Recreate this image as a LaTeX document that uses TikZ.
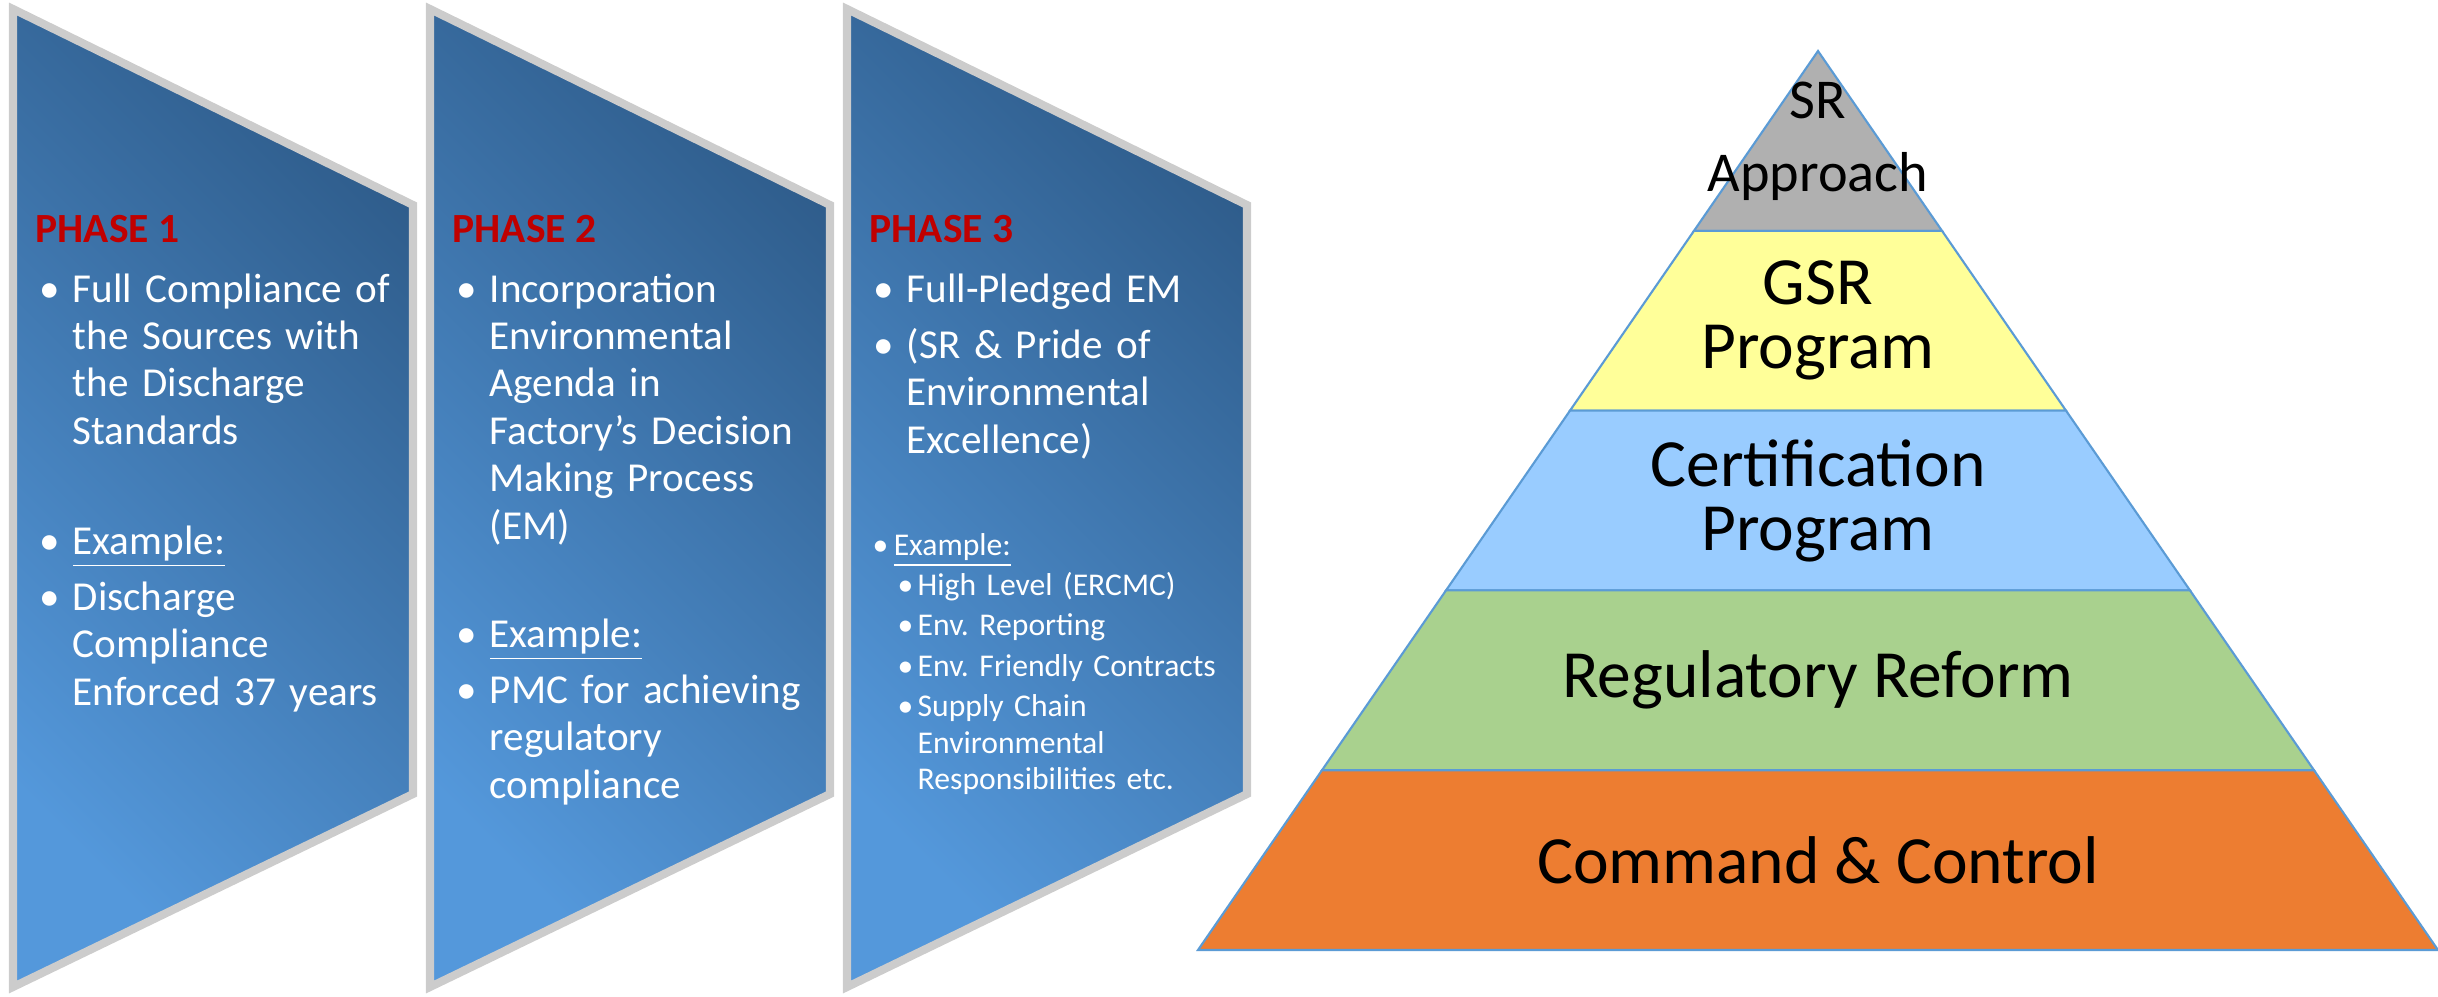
\documentclass[tikz,border=0pt]{standalone}
\usepackage{fontspec}
\setmainfont{Carlito}
\usetikzlibrary{positioning,calc}

\definecolor{phaseLight}{RGB}{84,152,219}
\definecolor{phaseDark}{RGB}{47,93,140}
\definecolor{phaseRim}{RGB}{204,204,204}
\definecolor{phaseRed}{RGB}{192,0,0}
\definecolor{pyrLine}{RGB}{91,155,213}
\definecolor{pyrGray}{RGB}{176,176,176}
\definecolor{pyrYellow}{RGB}{255,255,153}
\definecolor{pyrBlue}{RGB}{153,204,255}
\definecolor{pyrGreen}{RGB}{169,209,142}
\definecolor{pyrOrange}{RGB}{237,125,49}

\frenchspacing
\newcommand{\phitem}[2][9.4pt]{\noindent\hbox to #1{\textbullet\hfil}\parbox[t]{3.6cm}{\raggedright\frenchspacing #2}\par}
\newcommand{\phsub}[1]{\noindent\hspace*{7.1pt}\hbox to 5.7pt{\textbullet\hfil}\parbox[t]{3.2cm}{\raggedright\frenchspacing #1}\par}
\newcommand{\pyrsmall}{\fontsize{16}{20.8}\selectfont}
\newcommand{\pyrbig}{\fontsize{19.2}{18.2}\selectfont}

\tikzset{
  phasebox/.style={draw=phaseRim, line width=2.3pt, bottom color=phaseLight, top color=phaseDark, shading angle=-45},
  phasehead/.style={anchor=base west, inner sep=0pt, text=phaseRed, font=\fontsize{11.8}{13.5}\selectfont\bfseries},
  phasetext/.style={anchor=base west, inner sep=0pt, text=white, text width=3.9cm,
    font=\fontsize{11.7}{13.5}\selectfont, execute at begin node=\setlength{\parskip}{2.45pt}},
  phasesmall/.style={phasetext, font=\fontsize{9}{10.4}\selectfont, execute at begin node=\setlength{\parskip}{1.1pt}},
  layer/.style={draw=pyrLine, line width=0.6pt},
  laytext/.style={align=center, inner sep=0pt}
}

\begin{document}
\begin{tikzpicture}[x=0.01cm, y=-0.01cm]
\useasboundingbox (0,0) rectangle (2438,996);

% the three phase panels
\foreach \L in {9,426,843}{
  \draw[phasebox] (\L+4,9) -- (\L+404,205) -- (\L+404,794) -- (\L+4,987) -- cycle;
}

% phase 1
\node[phasehead] (head1) at (35,242) {PHASE 1};
\node[phasetext] (body1) at (39,302) {\phitem{Full Compliance of\\the Sources with\\the Discharge\\Standards}};
\node[phasetext] (exa1) at (39,554) {\phitem{\underline{Example:}}\phitem{Discharge\\Compliance\\Enforced 37 years}};

% phase 2
\node[phasehead] (head2) at (452,242) {PHASE 2};
\node[phasetext] (body2) at (456,302) {\phitem{Incorporation\\Environmental\\Agenda in\\Factory’s Decision\\Making Process\\(EM)}};
\node[phasetext] (exa2) at (456,647) {\phitem{\underline{Example:}}\phitem{PMC for achieving\\regulatory\\compliance}};

% phase 3
\node[phasehead] (head3) at (869,242) {PHASE 3};
\node[phasetext] (body3) at (873,302) {\phitem{Full-Pledged EM}\phitem{(SR \& Pride of\\Environmental\\Excellence)}};
\node[phasesmall] (exa3) at (872,555) {\phitem[6pt]{\underline{Example:}}\phsub{High Level (ERCMC)}\phsub{Env. Reporting}\phsub{Env. Friendly Contracts}\phsub{Supply Chain\\Environmental\\Responsibilities etc.}};

% pyramid
\coordinate (apex) at (1818,51);
\coordinate (bl) at (1198,950);
\coordinate (br) at (2438,950);
\foreach \k/\lcol/\lfont/\ltext in {0/pyrGray/\pyrsmall/{SR\\Approach},
    1/pyrYellow/\pyrbig/{GSR\\Program},
    2/pyrBlue/\pyrbig/{Certification\\Program},
    3/pyrGreen/\pyrbig/{Regulatory Reform},
    4/pyrOrange/\pyrbig/{Command \& Control}}{
  \pgfmathsetmacro\ta{\k/5}
  \pgfmathsetmacro\tb{(\k+1)/5}
  \draw[layer, fill=\lcol] ($(apex)!\ta!(bl)$) -- ($(apex)!\tb!(bl)$) -- ($(apex)!\tb!(br)$) -- ($(apex)!\ta!(br)$) -- cycle;
  \node[laytext, font=\lfont] (lay\k) at (1818,{51+179.8*(\k+0.5)}) {\ltext};
}

\end{tikzpicture}
\end{document}
